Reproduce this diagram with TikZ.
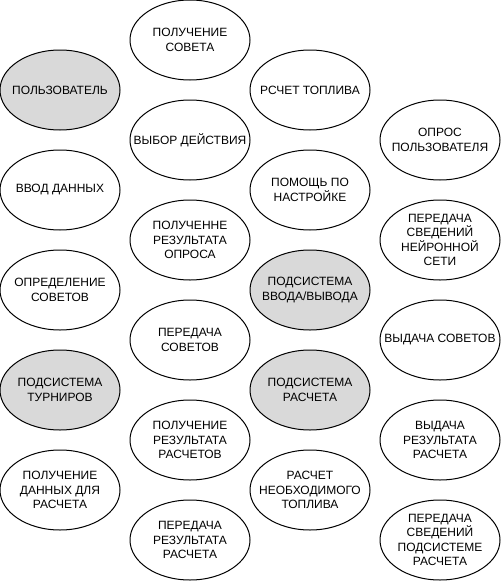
\documentclass[tikz,border=0pt]{standalone}
\usepackage{fontspec}
\setmainfont{Liberation Sans}
\usetikzlibrary{shapes.geometric}
\definecolor{ucgray}{RGB}{217,217,217}
\tikzset{
  uc/.style={ellipse, draw=black, line width=1pt, fill=white, minimum width=120pt, minimum height=80pt, inner sep=0pt, outer sep=0pt},
  ucg/.style={uc, fill=ucgray},
  every label/.style={align=center, inner sep=0pt, font=\fontsize{12}{14.4}\selectfont, text=black}
}
\begin{document}
\begin{tikzpicture}[x=1pt,y=-1pt]
\useasboundingbox (0,0) rectangle (501,581);
% column 1
\node[ucg, label={center:ПОЛЬЗОВАТЕЛЬ}] (user) at (60,90) {};
\node[uc, label={center:ВВОД ДАННЫХ}] (input) at (60,190) {};
\node[uc, label={center:ОПРЕДЕЛЕНИЕ\\СОВЕТОВ}] (defadv) at (60,290) {};
\node[ucg, label={center:ПОДСИСТЕМА\\ТУРНИРОВ}] (tourn) at (60,390) {};
\node[uc, label={center:ПОЛУЧЕНИЕ\\ДАННЫХ ДЛЯ\\РАСЧЕТА}] (getdata) at (60,490) {};
% column 2
\node[uc, label={center:ПОЛУЧЕНИЕ\\СОВЕТА}] (getadv) at (190,40) {};
\node[uc, label={center:ВЫБОР ДЕЙСТВИЯ}] (choose) at (190,140) {};
\node[uc, label={center:ПОЛУЧЕННЕ\\РЕЗУЛЬТАТА\\ОПРОСА}] (getpoll) at (190,240) {};
\node[uc, label={center:ПЕРЕДАЧА\\СОВЕТОВ}] (sendadv) at (190,340) {};
\node[uc, label={center:ПОЛУЧЕНИЕ\\РЕЗУЛЬТАТА\\РАСЧЕТОВ}] (getres) at (190,440) {};
\node[uc, label={center:ПЕРЕДАЧА\\РЕЗУЛЬТАТА\\РАСЧЕТА}] (sendres) at (190,540) {};
% column 3
\node[uc, label={center:РСЧЕТ ТОПЛИВА}] (fuel) at (310,90) {};
\node[uc, label={center:ПОМОЩЬ ПО\\НАСТРОЙКЕ}] (help) at (310,190) {};
\node[ucg, label={center:ПОДСИСТЕМА\\ВВОДА/ВЫВОДА}] (io) at (310,290) {};
\node[ucg, label={center:ПОДСИСТЕМА\\РАСЧЕТА}] (calc) at (310,390) {};
\node[uc, label={center:РАСЧЕТ\\НЕОБХОДИМОГО\\ТОПЛИВА}] (needfuel) at (310,490) {};
% column 4
\node[uc, label={center:ОПРОС\\ПОЛЬЗОВАТЕЛЯ}] (poll) at (440,140) {};
\node[uc, label={center:ПЕРЕДАЧА\\СВЕДЕНИЙ\\НЕЙРОННОЙ\\СЕТИ}] (sendnn) at (440,240) {};
\node[uc, label={center:ВЫДАЧА СОВЕТОВ}] (giveadv) at (440,340) {};
\node[uc, label={center:ВЫДАЧА\\РЕЗУЛЬТАТА\\РАСЧЕТА}] (giveres) at (440,440) {};
\node[uc, label={center:ПЕРЕДАЧА\\СВЕДЕНИЙ\\ПОДСИСТЕМЕ\\РАСЧЕТА}] (sendcalc) at (440,540) {};
\end{tikzpicture}
\end{document}
